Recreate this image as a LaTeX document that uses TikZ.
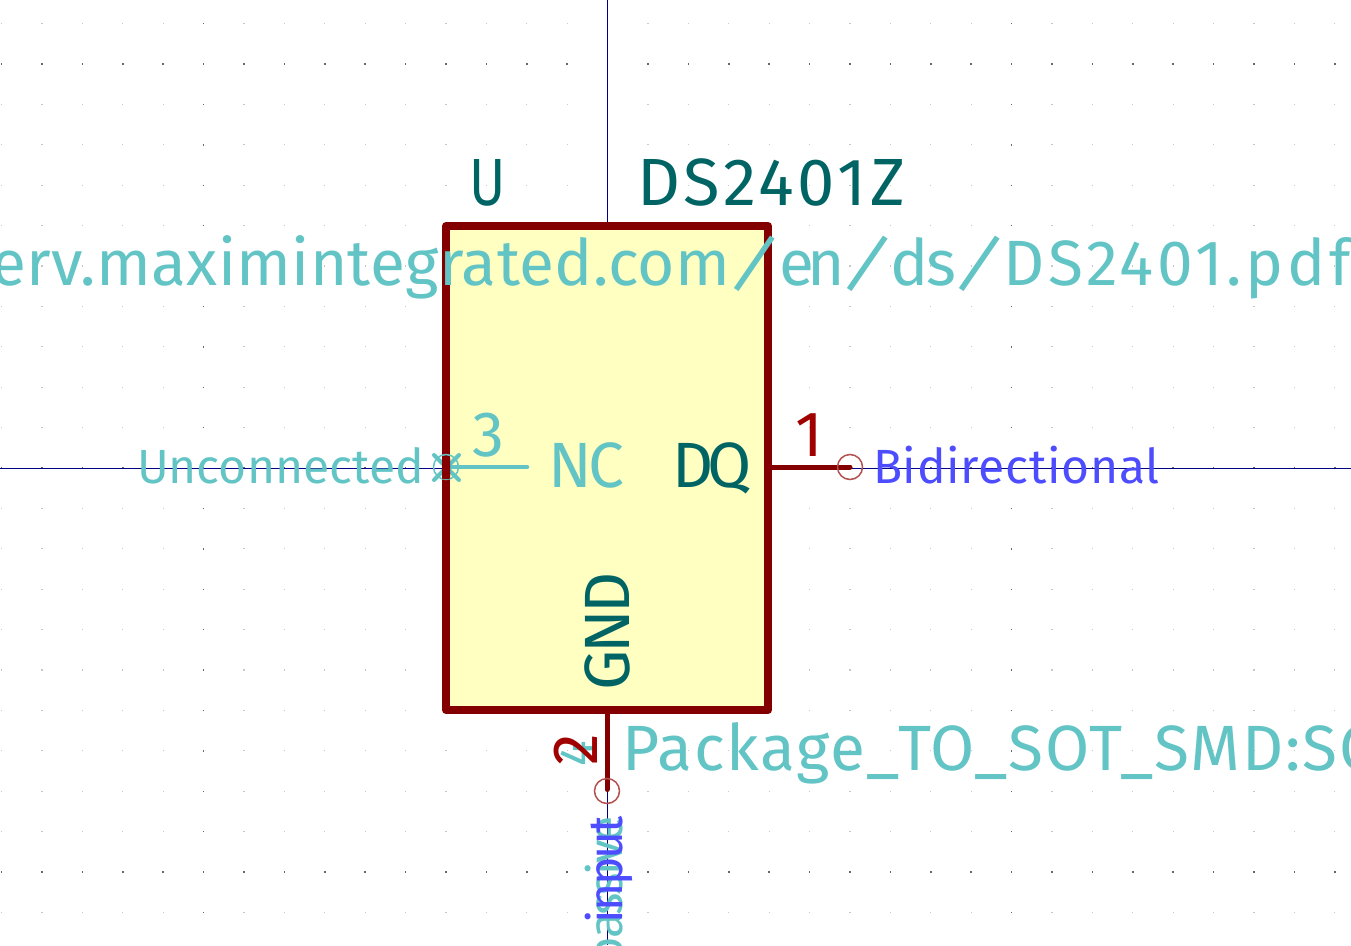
\documentclass[tikz,border=0pt]{standalone}
\usepackage{fontspec}
\usepackage{graphicx}
\setmainfont{Fira Sans}
\definecolor{kteal}{HTML}{006464}
\definecolor{kcyan}{HTML}{62C4C4}
\definecolor{kred}{HTML}{A00000}
\definecolor{kbody}{HTML}{840000}
\definecolor{kfill}{HTML}{FFFFC2}
\definecolor{kblue}{HTML}{4D4DFF}
\definecolor{kaxis}{HTML}{000084}
\definecolor{kring}{HTML}{B45050}
\newsavebox{\fitbox}
\newcommand{\fitted}[4]{\fontsize{#1}{#1}\selectfont\sbox{\fitbox}{#4}\pgfmathsetmacro{\ls}{(#2-\the\wd\fitbox)/(#3-1)/#1*100}\addfontfeature{LetterSpace=\ls}#4}
\newcommand{\seg}[2]{\rlap{\hspace*{#1pt}{#2}}}
\newcommand{\kslash}{\fontsize{64}{64}\selectfont\makebox[38pt][c]{\raisebox{-3pt}{\rotatebox[origin=c]{-20}{\scalebox{1.08}{/}}}}}
\tikzset{
  txt/.style={inner sep=0pt,outer sep=0pt,anchor=base west},
  griddot/.style={fill=#1,draw=none},
  ring/.style={draw=kring,line width=1.5pt,fill=none},
  pinline/.style={draw=kbody,line width=5pt,line cap=round},
  axisline/.style={draw=kaxis,line width=1pt},
}
\begin{document}
\begin{tikzpicture}[x=1pt,y=-1pt]
\useasboundingbox (0,0) rectangle (1351,945);
\clip (0,0) rectangle (1351,945);
\fill[white] (0,0) rectangle (1351,945);
% grid
\foreach \i in {-15,...,18}{
  \foreach \j in {-11,...,11}{
    \pgfmathsetmacro{\gx}{607.5+40.4*\i}
    \pgfmathsetmacro{\gy}{468+40.4*\j}
    \pgfmathtruncatemacro{\dk}{(mod(abs(\i),10)==0 || mod(abs(\j),10)==0)?1:0}
    \ifnum\dk=1
      \fill[griddot=black!60] (\gx-0.7,\gy-0.7) rectangle +(1.5,1.5);
    \else
      \fill[griddot=black!22] (\gx-0.6,\gy-0.6) rectangle +(1.2,1.2);
    \fi
  }
}
% axes
\coordinate (xl) at (0,468);
\coordinate (xr) at (1351,468);
\coordinate (yt) at (607.5,0);
\coordinate (yb) at (607.5,945);
\draw[axisline] (xl) -- (xr);
\draw[axisline] (yt) -- (yb);
% body
\node[draw=kbody,fill=kfill,line width=8pt,line join=round,minimum width=322pt,minimum height=484pt,inner sep=0pt,outer sep=0pt] (body) at (607,468) {};
% pins
\coordinate (p1) at (850,467);
\coordinate (p2) at (607,791);
\coordinate (p2e) at (607,789.5);
\coordinate (p3) at (446,467);
\coordinate (p3e) at (527,467);
\coordinate (b1) at (770,467);
\coordinate (b2) at (607,712);
\draw[pinline] (b1) -- (p1);
\draw[pinline] (b2) -- (p2e);
\node[ring,circle,minimum size=25pt,inner sep=0pt] (r1) at (p1) {};
\node[ring,circle,minimum size=25pt,inner sep=0pt] (r2) at (p2) {};
% NC pin
\draw[kcyan,line width=4.5pt,line cap=round] (p3) -- (p3e);
\node[circle,draw=kcyan,line width=1.5pt,minimum size=25pt,inner sep=0pt] (r3) at (p3) {};
\draw[kcyan,line width=4pt,line cap=round] (434,455) -- (459,480) (434,480) -- (459,455);
\fill[kbody,rounded corners=1pt] (442,457) rectangle (450,479);
% rotated underlying texts
\node[txt,rotate=90,text=kcyan] (ptype) at (622.5,965) {\fitted{48}{149}{7}{passive}};
\node[txt,rotate=90,text=kblue] (ptypeb) at (622.5,923) {\fitted{48}{107}{5}{input}};
% fields
\node[txt,text=kteal] (ref) at (469,205) {\fontsize{66.8}{66.8}\selectfont\scalebox{0.82}[1]{U}};
\node[txt,text=kteal] (val) at (637,205) {\fitted{66.8}{268}{7}{DS2401Z}};
\node[txt,text=kcyan] (url) at (-9,285) {\seg{0}{\fitted{64}{739}{23}{erv.maximintegrated.com}}\seg{744}{\kslash}\seg{788}{\fitted{64}{65}{2}{en}}\seg{857}{\kslash}\seg{899}{\fitted{64}{66}{2}{ds}}\seg{969}{\kslash}\seg{1012}{\fitted{64}{347}{10}{DS2401.pdf}}};
\node[txt,text=kcyan] (fp) at (622,770) {\fitted{64}{762}{21}{Package\_TO\_SOT\_SMD:SO}};
% pin names
\node[txt,text=kcyan] (nc) at (548,487) {\fitted{64}{76}{2}{NC}};
\node[txt,text=kteal] (dq) at (672,487) {\fitted{64}{80}{2}{DQ}};
\node[txt,rotate=90,text=kteal] (gnd) at (629,690) {\fitted{64}{118}{3}{GND}};
% pin numbers
\node[txt,text=kcyan,font=\fontsize{64}{64}\selectfont] (n3) at (472,456) {3};
\node[txt,text=kred,font=\fontsize{64}{64}\selectfont] (n1) at (795,456) {1};
\node[txt,rotate=90,text=kcyan,font=\fontsize{48}{48}\selectfont] (n4) at (593,766) {4};
\node[txt,rotate=90,text=kred,font=\fontsize{64}{64}\selectfont] (n2) at (597,765) {2};
% types
\node[txt,text=kcyan] (unc) at (137,483) {\fitted{48}{287}{11}{Unconnected}};
\node[txt,text=kblue] (bid) at (873,483) {\fitted{48}{287}{13}{Bidirectional}};
\end{tikzpicture}
\end{document}
